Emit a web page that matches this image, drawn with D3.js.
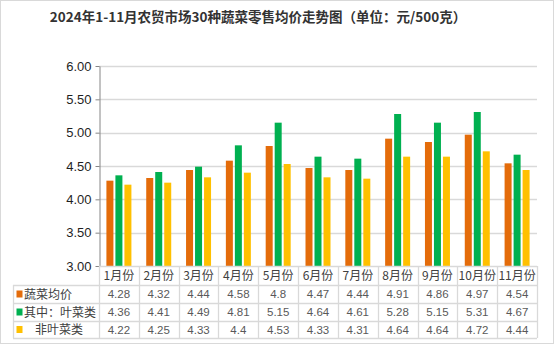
<!DOCTYPE html>
<html>
<head>
<meta charset="utf-8">
<script src="https://cdn.jsdelivr.net/npm/d3@7"></script>
<style>
  html, body { margin: 0; padding: 0; background: #fff; }
  svg { display: block; }
</style>
</head>
<body>
<svg id="chart" width="556" height="346"></svg>
<script>
// 2024年1-11月 农贸市场 30 种蔬菜零售均价（元/500克）
const months = ["1月份","2月份","3月份","4月份","5月份","6月份","7月份","8月份","9月份","10月份","11月份"];
const avgPrice = [4.28, 4.32, 4.44, 4.58, 4.8, 4.47, 4.44, 4.91, 4.86, 4.97, 4.54];
const leafyPrice = [4.36, 4.41, 4.49, 4.81, 5.15, 4.64, 4.61, 5.28, 5.15, 5.31, 4.67];
const nonLeafyPrice = [4.22, 4.25, 4.33, 4.4, 4.53, 4.33, 4.31, 4.64, 4.64, 4.72, 4.44];
const seriesNames = ["蔬菜均价", "其中：叶菜类", "非叶菜类"];
const seriesColors = ["#E46C0A", "#00B050", "#FFC000"];
const yTicks = [3.0, 3.5, 4.0, 4.5, 5.0, 5.5, 6.0];

const series = [avgPrice, leafyPrice, nonLeafyPrice].map((vals, i) => ({
  name: seriesNames[i], color: seriesColors[i], values: vals
}));

const svg = d3.select("#chart");
const plot = { left: 99, right: 537, top: 66, bottom: 266 };
const tableLeft = 13;
const rowH = [266, 285, 303, 321, 338];
const lineColor = "#d9d9d9";
const numFont = "'Liberation Sans', Arial, sans-serif";
const cjkFont = "'Noto Sans CJK SC', sans-serif";

// outer frame
svg.append("rect")
  .attr("x", 0.5).attr("y", 0.5).attr("width", 553).attr("height", 343)
  .attr("fill", "#fff").attr("stroke", lineColor);

// title
svg.append("text")
  .attr("x", 258).attr("y", 22)
  .attr("text-anchor", "middle")
  .attr("font-family", cjkFont)
  .attr("font-weight", "bold")
  .attr("font-size", 13.5)
  .attr("fill", "#333")
  .text("2024年1-11月农贸市场30种蔬菜零售均价走势图（单位：元/500克）");

const x = d3.scaleBand().domain(months).range([plot.left, plot.right]).padding(0);
const y = d3.scaleLinear().domain([3, 6]).range([plot.bottom, plot.top]);
const barW = 7, barStep = 9;

// gridlines
svg.append("g").selectAll("line")
  .data(yTicks.slice(1))
  .join("line")
  .attr("x1", plot.left).attr("x2", plot.right)
  .attr("y1", d => Math.round(y(d)) + 0.5).attr("y2", d => Math.round(y(d)) + 0.5)
  .attr("stroke", lineColor).attr("stroke-width", 1.3);

// bars
series.forEach((s, si) => {
  svg.append("g").selectAll("rect")
    .data(s.values)
    .join("rect")
    .attr("x", (d, i) => x(months[i]) + x.bandwidth() / 2 - 12.5 + si * barStep)
    .attr("y", d => y(d))
    .attr("width", barW)
    .attr("height", d => y(3) - y(d))
    .attr("fill", s.color);
});

// y axis
const yAxis = d3.axisLeft(y).tickValues(yTicks).tickFormat(d3.format(".2f")).tickSize(4).tickSizeOuter(0);
const ya = svg.append("g").attr("transform", `translate(${plot.left + 0.5},0)`).call(yAxis);
ya.select(".domain").attr("stroke", "#868686");
ya.selectAll(".tick line").attr("stroke", "#868686");
ya.selectAll(".tick text")
  .attr("x", -8)
  .attr("font-family", numFont)
  .attr("font-size", 13)
  .attr("fill", "#1f1f1f");

// data table
const table = svg.append("g");
// horizontal rules
table.append("line")
  .attr("x1", plot.left).attr("x2", plot.right)
  .attr("y1", rowH[0] + 0.5).attr("y2", rowH[0] + 0.5)
  .attr("stroke", lineColor).attr("stroke-width", 1.3);
table.selectAll("line.h")
  .data(rowH.slice(1))
  .join("line")
  .attr("class", "h")
  .attr("x1", tableLeft).attr("x2", plot.right)
  .attr("y1", d => d + 0.5).attr("y2", d => d + 0.5)
  .attr("stroke", lineColor).attr("stroke-width", 1.3);
// vertical rules
const colEdges = months.map(m => x(m)).concat([plot.right]);
table.selectAll("line.v")
  .data(colEdges.slice(1))
  .join("line")
  .attr("class", "v")
  .attr("x1", d => Math.round(d) + 0.5).attr("x2", d => Math.round(d) + 0.5)
  .attr("y1", rowH[0]).attr("y2", rowH[4])
  .attr("stroke", lineColor).attr("stroke-width", 1.3);
table.append("line")
  .attr("x1", plot.left + 0.5).attr("x2", plot.left + 0.5)
  .attr("y1", rowH[0]).attr("y2", rowH[4])
  .attr("stroke", lineColor).attr("stroke-width", 1.3);
table.append("line")
  .attr("x1", tableLeft + 0.5).attr("x2", tableLeft + 0.5)
  .attr("y1", rowH[1]).attr("y2", rowH[4])
  .attr("stroke", lineColor).attr("stroke-width", 1.3);

// month header
table.selectAll("text.m")
  .data(months)
  .join("text")
  .attr("class", "m")
  .attr("x", d => x(d) + x.bandwidth() / 2)
  .attr("y", (rowH[0] + rowH[1]) / 2 + 4.5)
  .attr("text-anchor", "middle")
  .attr("font-family", cjkFont)
  .attr("font-size", 12)
  .attr("fill", "#404040")
  .text(d => d);

// series rows
series.forEach((s, si) => {
  const cy = (rowH[si + 1] + rowH[si + 2]) / 2;
  table.append("rect")
    .attr("x", 16.5).attr("y", cy - 3.5)
    .attr("width", 6).attr("height", 7)
    .attr("fill", s.color);
  table.append("text")
    .attr("x", si === 2 ? 35 : 24)
    .attr("y", cy + 4.5)
    .attr("font-family", cjkFont)
    .attr("font-size", 12)
    .attr("fill", "#404040")
    .text(s.name);
  table.append("g").selectAll("text")
    .data(s.values)
    .join("text")
    .attr("x", (d, i) => x(months[i]) + x.bandwidth() / 2)
    .attr("y", cy + 4)
    .attr("text-anchor", "middle")
    .attr("font-family", numFont)
    .attr("font-size", 11.5)
    .attr("fill", "#595959")
    .text(d => d);
});
</script>
</body>
</html>
